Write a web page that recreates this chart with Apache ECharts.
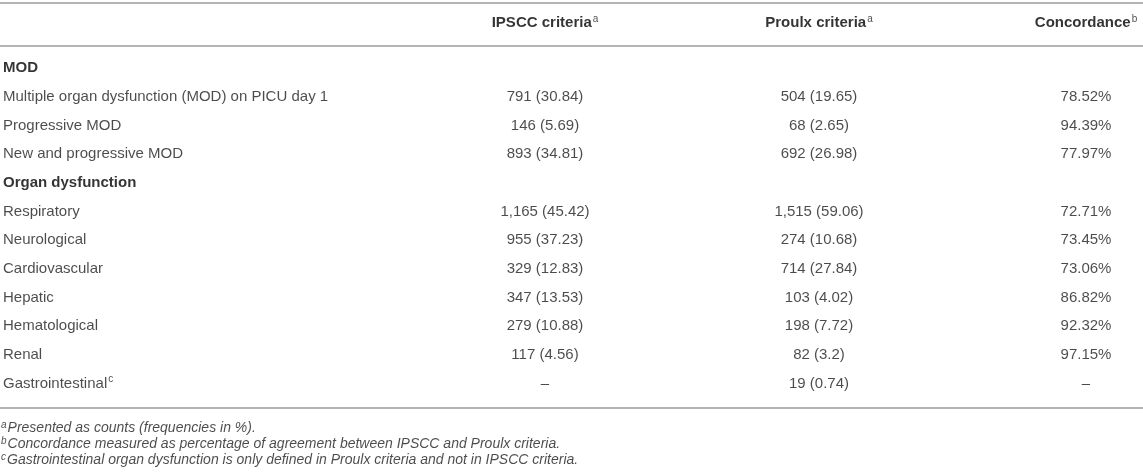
<!DOCTYPE html>
<html lang="en">
<head>
<meta charset="UTF-8">
<script src="https://cdn.jsdelivr.net/npm/echarts@6/dist/echarts.min.js"></script>
<style>html,body{margin:0;padding:0;background:#fff}</style>
</head>
<body>
<div id="chart" style="width:1143px;height:475px"></div>
<script>
// table content
var headers = ['', 'IPSCC criteria', 'Proulx criteria', 'Concordance']
var headerNotes = ['', 'a', 'a', 'b']
var rowLabels = ['MOD', 'Multiple organ dysfunction (MOD) on PICU day 1', 'Progressive MOD', 'New and progressive MOD',
    'Organ dysfunction', 'Respiratory', 'Neurological', 'Cardiovascular', 'Hepatic', 'Hematological', 'Renal', 'Gastrointestinal']
var rowNotes = ['', '', '', '', '', '', '', '', '', '', '', 'c']
var sectionRows = [0, 4]
var ipscc = ['', '791 (30.84)', '146 (5.69)', '893 (34.81)', '', '1,165 (45.42)', '955 (37.23)', '329 (12.83)',
    '347 (13.53)', '279 (10.88)', '117 (4.56)', '–']
var proulx = ['', '504 (19.65)', '68 (2.65)', '692 (26.98)', '', '1,515 (59.06)', '274 (10.68)', '714 (27.84)',
    '103 (4.02)', '198 (7.72)', '82 (3.2)', '19 (0.74)']
var concordance = ['', '78.52%', '94.39%', '77.97%', '', '72.71%', '73.45%', '73.06%', '86.82%', '92.32%', '97.15%', '–']
var footNotes = ['a', 'b', 'c']
var footTexts = ['Presented as counts (frequencies in %).',
    'Concordance measured as percentage of agreement between IPSCC and Proulx criteria.',
    'Gastrointestinal organ dysfunction is only defined in Proulx criteria and not in IPSCC criteria.']

// layout (pixels)
var W = 1143, H = 475
var colX = [3, 545, 819, 1086]
var firstRowY = 68, rowStep = 28.7
var headerY = 23
var rulesY = [2.5, 46, 407.5]
var footY = [428, 444, 460]
function toRow(px) { return (px - firstRowY) / rowStep }

var font = 'Liberation Sans, Arial, Helvetica, sans-serif'
var rich = {
    n: {fontSize: 15, color: '#1e1e1e', fontFamily: font, lineHeight: 18},
    b: {fontSize: 15, color: '#000', fontWeight: 'bold', fontFamily: font, lineHeight: 18},
    s: {fontSize: 10, color: '#1e1e1e', fontFamily: font, lineHeight: 10, verticalAlign: 'top', padding: [0, 0, 0, 1]},
    fi: {fontSize: 14, color: '#1e1e1e', fontStyle: 'italic', fontFamily: font, lineHeight: 16},
    fs: {fontSize: 10, color: '#1e1e1e', fontStyle: 'italic', fontFamily: font, lineHeight: 9, verticalAlign: 'top',
        padding: [0, 1, 0, 1]}
}

function cell(x, y, text, align) {
    return {value: [x, y], label: {formatter: text, align: align}}
}

var cells = []
headers.forEach(function (h, c) {
    if (!h) return
    cells.push(cell(colX[c], toRow(headerY), '{b|' + h + '}{s|' + headerNotes[c] + '}', 'center'))
})
rowLabels.forEach(function (r, i) {
    var style = sectionRows.indexOf(i) >= 0 ? 'b' : 'n'
    var txt = '{' + style + '|' + r + '}' + (rowNotes[i] ? '{s|' + rowNotes[i] + '}' : '')
    cells.push(cell(colX[0], i, txt, 'left'))
    ;[ipscc, proulx, concordance].forEach(function (col, c) {
        if (col[i]) cells.push(cell(colX[c + 1], i, '{n|' + col[i] + '}', 'center'))
    })
})
footTexts.forEach(function (t, i) {
    cells.push(cell(0, toRow(footY[i]), '{fs|' + footNotes[i] + '}{fi|' + t + '}', 'left'))
})

var myChart = echarts.init(document.getElementById('chart'))
var option = {
    animation: false,
    grid: {left: 0, right: 0, top: 0, bottom: 0},
    xAxis: {type: 'value', min: 0, max: W, show: false},
    yAxis: {type: 'value', inverse: true, min: toRow(0), max: toRow(H), show: false},
    series: [{
        type: 'scatter',
        symbolSize: 0,
        silent: true,
        label: {show: true, position: 'inside', verticalAlign: 'middle', rich: rich},
        data: cells,
        markLine: {
            silent: true,
            symbol: 'none',
            label: {show: false},
            lineStyle: {color: '#b4b4b4', width: 2, type: 'solid'},
            data: rulesY.map(function (y) { return {yAxis: toRow(y)} })
        }
    }]
}
option && myChart.setOption(option)
</script>
</body>
</html>
